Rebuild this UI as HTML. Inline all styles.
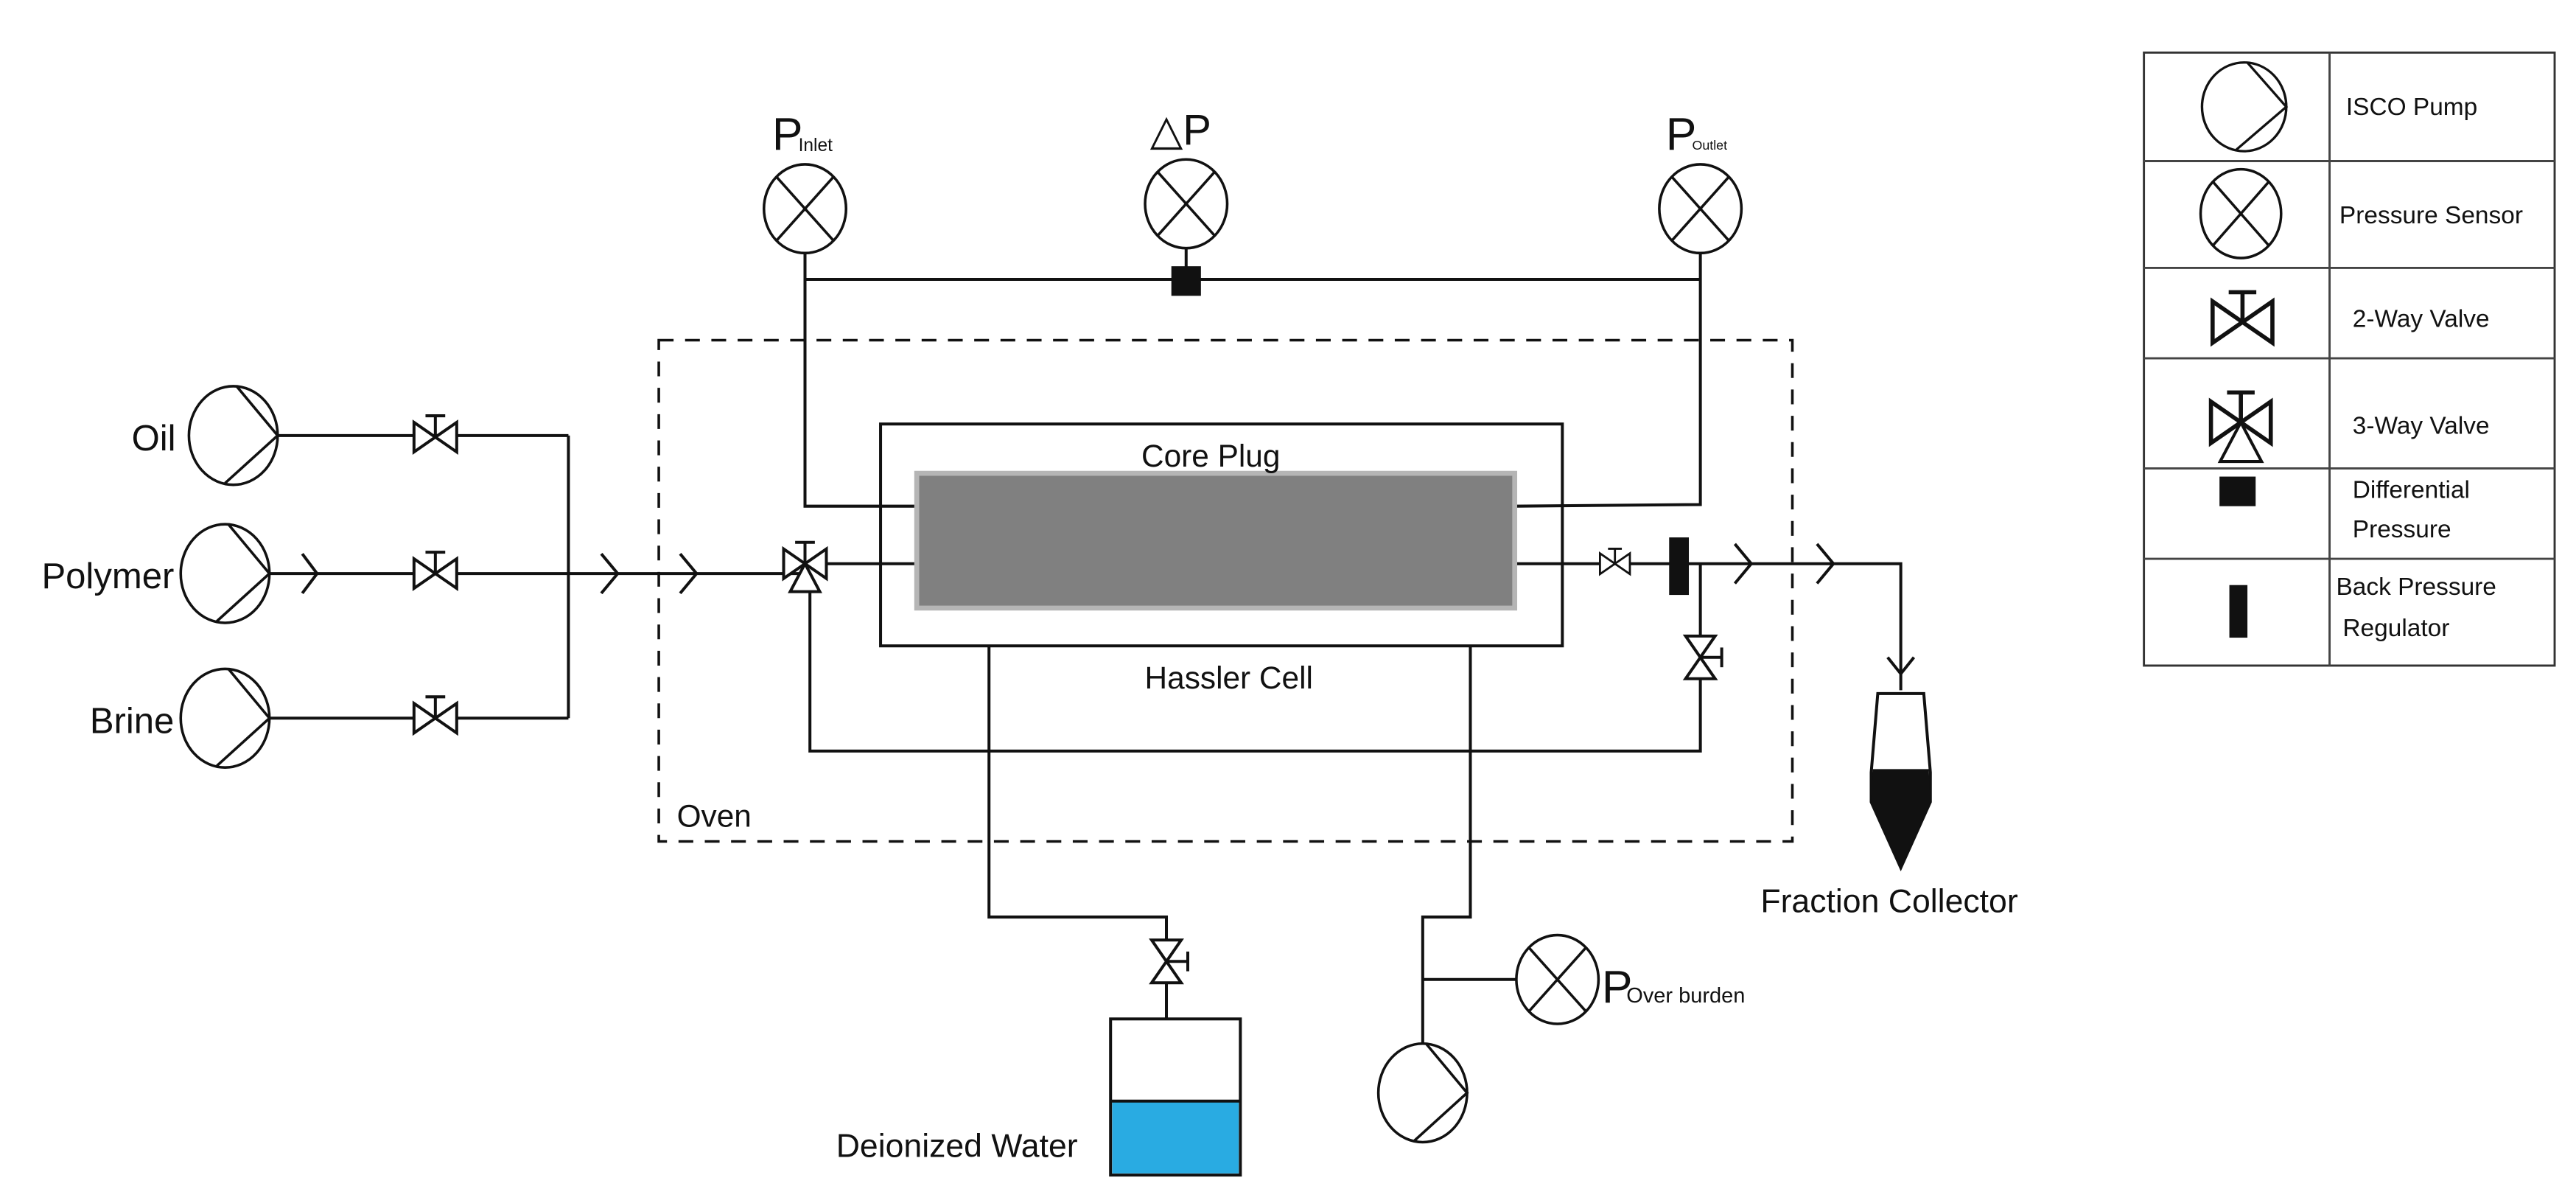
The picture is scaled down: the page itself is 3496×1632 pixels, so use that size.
<!DOCTYPE html>
<html><head><meta charset="utf-8"><style>
html,body{margin:0;padding:0;background:#fff}
svg{display:block}
text{font-family:"Liberation Sans",sans-serif;fill:#111}
</style></head><body>
<svg width="3496" height="1632" viewBox="0 0 1568 732" preserveAspectRatio="none" xmlns="http://www.w3.org/2000/svg">
<defs>
<g id="v2" fill="#fff" stroke="#111" stroke-width="1.8">
<polygon points="-13,-9 -13,9 0,0"/><polygon points="13,-9 13,9 0,0"/>
<line x1="0" y1="0" x2="0" y2="-13"/><line x1="-6" y1="-13" x2="6" y2="-13"/>
</g>
<g id="ps" fill="#fff" stroke="#111" stroke-width="1.6">
<ellipse cx="0" cy="0" rx="25" ry="27"/>
<line x1="-17" y1="-19" x2="17" y2="19"/><line x1="17" y1="-19" x2="-17" y2="19"/>
</g>
<g id="pump" fill="#fff" stroke="#111" stroke-width="1.6">
<ellipse cx="0" cy="0" rx="27" ry="30"/>
<polyline fill="none" points="2,-30 27,0 -5,29"/>
</g>
</defs>
<g stroke="#111" stroke-width="1.8" fill="none">
<line x1="168" y1="265" x2="346" y2="265"/>
<line x1="163" y1="349" x2="490" y2="349"/>
<line x1="163" y1="437" x2="346" y2="437"/>
<line x1="346" y1="265" x2="346" y2="437"/>
<polyline points="184,337 193,349 184,361"/>
<polyline points="366,337 376,349 366,361"/>
<polyline points="414,337 424,349 414,361"/>
<rect x="401" y="207" width="690" height="305" stroke-dasharray="9,7" stroke-width="1.6"/>
<rect x="536" y="258" width="415" height="135"/>
<line x1="490" y1="170" x2="1035" y2="170"/>
<line x1="722" y1="150" x2="722" y2="170"/>
<polyline points="490,152 490,308 558,308"/>
<polyline points="1035,152 1035,307 922,308"/>
<line x1="490" y1="343" x2="558" y2="343"/>
<polyline points="922,343 1157,343 1157,420"/>
<polyline points="1035,343 1035,457 493,457 493,360"/>
<polyline points="1056,331 1066,343 1056,355"/>
<polyline points="1106,331 1116,343 1106,355"/>
<polyline points="1149,400 1157,410 1165,400"/>
<polyline points="602,393 602,558 710,558 710,620"/>
<polyline points="895,393 895,558 866,558 866,636"/>
<line x1="866" y1="596" x2="923" y2="596"/>
</g>
<rect x="558" y="288" width="364" height="82" fill="#808080" stroke="#b5b5b5" stroke-width="3"/>
<rect x="713" y="162" width="18" height="18" fill="#111"/>
<rect x="1016" y="327" width="12" height="35" fill="#111"/>
<use href="#v2" x="265" y="266"/>
<use href="#v2" x="265" y="349"/>
<use href="#v2" x="265" y="437"/>
<g transform="translate(983,343) scale(0.7)"><use href="#v2"/></g>
<g transform="translate(1035,400) rotate(90)"><use href="#v2"/></g>
<g transform="translate(710,585) rotate(90)"><use href="#v2"/></g>
<g fill="#fff" stroke="#111" stroke-width="1.8">
<use href="#v2" x="490" y="343"/>
<polygon points="490,343 481,360 499,360"/>
</g>
<use href="#pump" x="142" y="265"/>
<use href="#pump" x="137" y="349"/>
<use href="#pump" x="137" y="437"/>
<use href="#pump" x="866" y="665"/>
<use href="#ps" x="490" y="127"/>
<use href="#ps" x="722" y="124"/>
<use href="#ps" x="1035" y="127"/>
<use href="#ps" x="948" y="596"/>
<rect x="676" y="620" width="79" height="95" fill="#fff" stroke="#111" stroke-width="1.8"/>
<rect x="677" y="670" width="77" height="44" fill="#29abe2"/>
<line x1="676" y1="670" x2="755" y2="670" stroke="#111" stroke-width="1.8"/>
<path d="M1143,422 L1171,422 L1175,470 L1175,488 L1157,528 L1139,488 L1139,470 Z" fill="#fff" stroke="#111" stroke-width="1.8"/>
<path d="M1140,468 L1174,468 L1175,488 L1157,528 L1139,488 Z" fill="#111"/>
<text x="107" y="274" font-size="22" text-anchor="end">Oil</text>
<text x="106" y="358" font-size="22" text-anchor="end">Polymer</text>
<text x="106" y="446" font-size="22" text-anchor="end">Brine</text>
<text x="412" y="503" font-size="19">Oven</text>
<text x="737" y="284" font-size="19" text-anchor="middle">Core Plug</text>
<text x="748" y="419" font-size="19" text-anchor="middle">Hassler Cell</text>
<text x="1150" y="555" font-size="20" text-anchor="middle">Fraction Collector</text>
<text x="656" y="704" font-size="20" text-anchor="end">Deionized Water</text>
<text x="470" y="91" font-size="28">P</text><text x="486" y="92" font-size="11">Inlet</text>
<text x="700" y="88" font-size="26">△P</text>
<text x="1014" y="91" font-size="28">P</text><text x="1030" y="91" font-size="8">Outlet</text>
<text x="975" y="610" font-size="28">P</text><text x="990" y="610" font-size="13">Over burden</text>
<g stroke="#444" stroke-width="1.3" fill="none">
<rect x="1305" y="32" width="250" height="373" stroke="#333"/>
<line x1="1418" y1="32" x2="1418" y2="405"/>
<line x1="1305" y1="98" x2="1555" y2="98"/>
<line x1="1305" y1="163" x2="1555" y2="163"/>
<line x1="1305" y1="218" x2="1555" y2="218"/>
<line x1="1305" y1="285" x2="1555" y2="285"/>
<line x1="1305" y1="340" x2="1555" y2="340"/>
</g>
<g transform="translate(1366,65) scale(0.95,0.9)"><use href="#pump"/></g>
<g transform="translate(1364,130) scale(0.98,1)"><use href="#ps"/></g>
<g transform="translate(1365,196) scale(1.4)"><use href="#v2"/></g>
<g transform="translate(1364,257) scale(1.4)" fill="#fff" stroke="#111" stroke-width="1.3"><use href="#v2"/><polygon points="0,0 -9,17 9,17"/></g>
<rect x="1351" y="290" width="22" height="18" fill="#111"/>
<rect x="1357" y="356" width="11" height="32" fill="#111"/>
<g font-size="15">
<text x="1428" y="70">ISCO Pump</text>
<text x="1424" y="136">Pressure Sensor</text>
<text x="1432" y="199">2-Way Valve</text>
<text x="1432" y="264">3-Way Valve</text>
<text x="1432" y="303">Differential</text>
<text x="1432" y="327">Pressure</text>
<text x="1422" y="362">Back Pressure</text>
<text x="1426" y="387">Regulator</text>
</g>
</svg>
</body></html>
